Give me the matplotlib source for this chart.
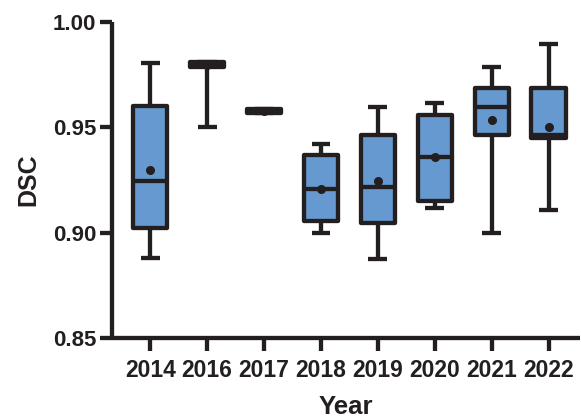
import matplotlib
matplotlib.use('Agg')
import matplotlib.pyplot as plt

# DSC per year: whisker ends (min/max), quartiles, median and mean
years = ['2014', '2016', '2017', '2018', '2019', '2020', '2021', '2022']
whisker_low = [0.888, 0.950, 0.9567, 0.900, 0.8875, 0.912, 0.900, 0.911]
q1 = [0.9025, 0.9785, 0.9567, 0.9055, 0.9046, 0.915, 0.9463, 0.9449]
medians = [0.9246, 0.9798, 0.9578, 0.921, 0.9218, 0.9362, 0.9596, 0.9464]
q3 = [0.960, 0.981, 0.9589, 0.9368, 0.9464, 0.9561, 0.9686, 0.9686]
whisker_high = [0.9807, 0.981, 0.9589, 0.9423, 0.9597, 0.9618, 0.9788, 0.9897]
means = [0.930, 0.9798, 0.9578, 0.921, 0.9246, 0.9359, 0.9534, 0.9502]

INK = '#231f20'
FILL = '#6699cf'

plt.rcParams['font.family'] = ['Liberation Sans', 'DejaVu Sans']
plt.rcParams['font.weight'] = 'bold'

fig = plt.figure(figsize=(5.81, 4.17), dpi=100)
ax = fig.add_axes([0.192, 0.189, 0.806, 0.758])

stats = []
for i, y in enumerate(years):
    stats.append({
        'label': y,
        'whislo': whisker_low[i],
        'q1': q1[i],
        'med': medians[i],
        'q3': q3[i],
        'whishi': whisker_high[i],
        'mean': means[i],
        'fliers': [],
    })

lw = 3.1
bp = ax.bxp(stats, positions=range(len(years)), widths=0.6, patch_artist=True,
            showmeans=True, showfliers=False,
            boxprops=dict(facecolor=FILL, edgecolor=INK, linewidth=lw, joinstyle='round'),
            medianprops=dict(color=INK, linewidth=lw, solid_capstyle='butt'),
            whiskerprops=dict(color=INK, linewidth=lw, solid_capstyle='butt'),
            capprops=dict(color=INK, linewidth=lw, solid_capstyle='butt'),
            meanprops=dict(marker='o', markerfacecolor=INK, markeredgecolor=INK, markersize=5.5),
            capwidths=0.33)

# nearly flat boxes read as a solid bar
for i, box in enumerate(bp['boxes']):
    if q3[i] - q1[i] < 0.003:
        box.set_facecolor(INK)

ax.set_ylim(0.85, 1.00)
ax.set_xlim(-0.68, 7.55)
ax.set_yticks([0.85, 0.90, 0.95, 1.00])
ax.set_yticklabels(['0.85', '0.90', '0.95', '1.00'])
ax.set_xticks(range(len(years)))
ax.set_xticklabels(years)

for s in ['top', 'right']:
    ax.spines[s].set_visible(False)
for s in ['left', 'bottom']:
    ax.spines[s].set_linewidth(lw)
    ax.spines[s].set_color(INK)
    ax.spines[s].set_capstyle('butt')

ax.tick_params(axis='both', length=9, width=lw, color=INK, labelcolor=INK)
ax.tick_params(axis='y', pad=2, labelsize=16)
ax.tick_params(axis='x', pad=6, labelsize=16.5)

ax.set_ylabel('DSC', fontsize=18, fontweight='bold', color=INK, labelpad=9)
ax.set_xlabel('Year', fontsize=18.5, fontweight='bold', color=INK, labelpad=9)

fig.savefig('out.png', dpi=100)
